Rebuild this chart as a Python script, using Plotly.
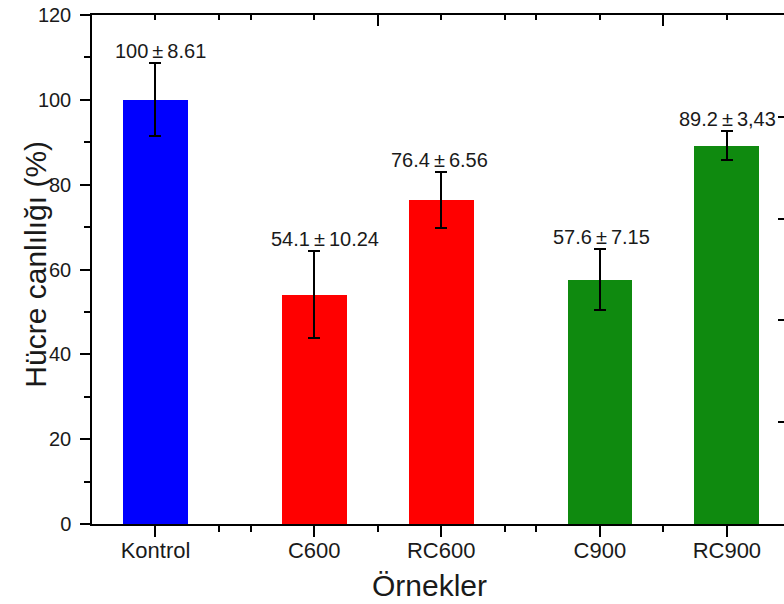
import plotly.graph_objects as go

# ---------------- data ----------------
categories = ["Kontrol", "C600", "RC600", "C900", "RC900"]
viability = [100, 54.1, 76.4, 57.6, 89.2]
std_dev = [8.61, 10.24, 6.56, 7.15, 3.43]
value_labels = ["100\u2009±\u20098.61", "54.1\u2009±\u200910.24", "76.4\u2009±\u20096.56",
                "57.6\u2009±\u20097.15", "89.2\u2009±\u20093,43"]
y_tick_values = [0, 20, 40, 60, 80, 100, 120]

# ---------------- layout / style ----------------
slot = [1, 2.25, 3.25, 4.5, 5.5]          # horizontal slots of the bars (with group gaps)
bar_colors = ["#0000ff", "#ff0000", "#ff0000", "#0f8a0f", "#0f8a0f"]
label_xshift = [5, 11, -2, 2, 1]
FONT = "Liberation Sans, Arial, sans-serif"
INK = "#1a1a1a"

fig = go.Figure()
fig.add_trace(go.Bar(
    x=slot, y=viability, width=0.51,
    marker=dict(color=bar_colors, line=dict(width=0)),
    error_y=dict(type="data", array=std_dev, color="black", thickness=2, width=6),
    showlegend=False, hoverinfo="skip",
))
# invisible helper trace so the mirrored (top / right) axes are drawn
fig.add_trace(go.Scatter(
    x=slot, y=viability, xaxis="x2", yaxis="y2", mode="markers",
    marker=dict(opacity=0), showlegend=False, hoverinfo="skip",
))

for i, txt in enumerate(value_labels):
    fig.add_annotation(
        x=slot[i], y=viability[i] + std_dev[i], text=txt, showarrow=False,
        xanchor="center", yanchor="bottom", yshift=-1, xshift=label_xshift[i],
        font=dict(family=FONT, size=20, color=INK),
    )

# axis titles
fig.add_annotation(
    xref="paper", yref="paper", x=-0.082, y=0.51, text="Hücre canlılığı (%)",
    textangle=-90, showarrow=False, xanchor="center", yanchor="middle",
    font=dict(family=FONT, size=30, color=INK),
)
fig.add_annotation(
    xref="paper", yref="paper", x=0.488, y=-0.12, text="Örnekler",
    showarrow=False, xanchor="center", yanchor="middle",
    font=dict(family=FONT, size=30, color=INK),
)

XR = [0.5, 5.95]
fig.update_layout(
    width=784, height=604,
    margin=dict(l=92, r=0, t=15, b=80),
    paper_bgcolor="white", plot_bgcolor="white",
    bargap=0,
    xaxis=dict(
        range=XR, tickmode="array", tickvals=slot, ticktext=categories,
        ticks="outside", ticklen=11, tickwidth=1.5, tickcolor="black",
        showline=True, linewidth=1.5, linecolor="black", showgrid=False, zeroline=False,
        tickfont=dict(family=FONT, size=22, color=INK), ticklabelstandoff=-5,
        minor=dict(tickmode="array", tickvals=[1.5, 1.75, 2.75, 3.75, 4.0, 5.0],
                   ticks="outside", ticklen=6, tickwidth=1.5, tickcolor="black", showgrid=False),
    ),
    xaxis2=dict(
        range=XR, overlaying="x", side="top", showline=True, linewidth=1.5, linecolor="black",
        tickmode="array", tickvals=[2.75, 5.0], ticks="inside", ticklen=11, tickwidth=1.5,
        tickcolor="black", showticklabels=False, showgrid=False, zeroline=False,
        minor=dict(tickmode="array", tickvals=[1, 1.5, 1.75, 2.25, 3.25, 3.75, 4.0, 4.5, 5.5],
                   ticks="inside", ticklen=5, tickwidth=1.5, tickcolor="black", showgrid=False),
    ),
    yaxis=dict(
        range=[0, 120], tickmode="array", tickvals=y_tick_values,
        ticks="outside", ticklen=10, tickwidth=1.5, tickcolor="black",
        showline=True, linewidth=1.5, linecolor="black", showgrid=False, zeroline=False,
        tickfont=dict(family=FONT, size=20, color=INK), ticklabelstandoff=5,
        minor=dict(tickmode="array", tickvals=[10, 30, 50, 70, 90, 110],
                   ticks="outside", ticklen=6, tickwidth=1.5, tickcolor="black", showgrid=False),
    ),
    yaxis2=dict(
        range=[0, 120], overlaying="y", side="right", showline=False,
        tickmode="array", tickvals=[24, 48, 72, 96], ticks="inside", ticklen=6, tickwidth=1.5,
        tickcolor="black", showticklabels=False, showgrid=False, zeroline=False,
    ),
)

fig.write_html("out.html")
